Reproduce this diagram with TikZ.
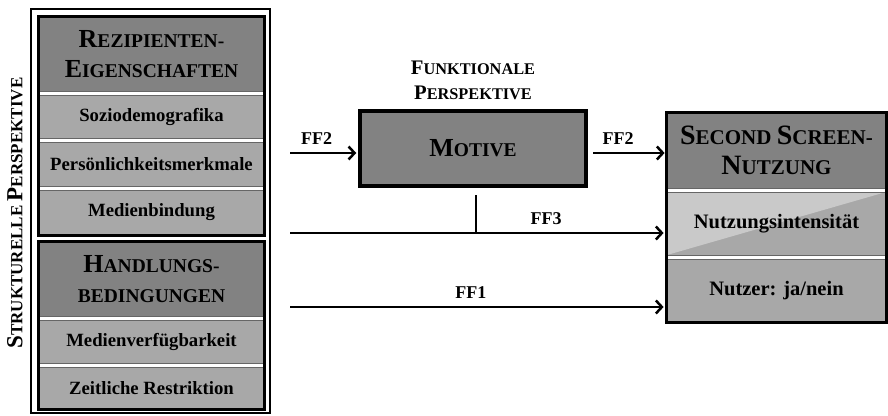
\documentclass[tikz,border=0pt]{standalone}
\usepackage{fontspec}
\setmainfont{Liberation Serif}
\usetikzlibrary{arrows.meta}

\definecolor{dunkelgrau}{gray}{0.51}
\definecolor{mittelgrau}{gray}{0.66}
\definecolor{hellgrau}{gray}{0.79}

\newcommand{\kap}[3][26]{{\fontsize{#1}{30}\selectfont #2}#3}

\tikzset{
  kopf/.style={draw=black!60,fill=dunkelgrau,line width=0.8pt,minimum width=225pt,minimum height=74pt,inner sep=0pt,align=center,font=\bfseries\fontsize{19.5}{30}\selectfont},
  zeile/.style={draw=black!60,fill=mittelgrau,line width=0.8pt,minimum width=225pt,inner sep=0pt,font=\bfseries\fontsize{18.7}{20}\selectfont},
  block/.style={draw=black,line width=3pt},
  linie/.style={line width=2.5pt},
  fflabel/.style={font=\bfseries\fontsize{18}{18}\selectfont},
  >={Straight Barb[length=6pt,width=13pt]}
}

\begin{document}
\begin{tikzpicture}[x=1pt,y=-1pt]
\useasboundingbox (0,0) rectangle (888,415);

\node[rotate=90,font=\bfseries\fontsize{17}{30}\selectfont] (struk) at (15,213) {\kap[23]{S}{TRUKTURELLE} \kap[23]{P}{ERSPEKTIVE}};
\draw[line width=2.5pt] (31,9) rectangle (270,413);

\node[kopf] (rezip) at (151.5,54) {\kap{R}{EZIPIENTEN-}\\\kap{E}{IGENSCHAFTEN}};
\node[zeile,minimum height=43pt] (sozio) at (151.5,116.5) {Soziodemografika};
\node[zeile,minimum height=44pt] (pers) at (151.5,164) {Persönlichkeitsmerkmale};
\node[zeile,minimum height=45pt] (medb) at (151.5,212.5) {Medienbindung};
\draw[block] (rezip.north west) rectangle (medb.south east);

\node[kopf] (handl) at (151.5,279) {\kap{H}{ANDLUNGS-}\\BEDINGUNGEN};
\node[zeile,minimum height=43pt] (medv) at (151.5,341.5) {Medienverfügbarkeit};
\node[zeile,minimum height=42pt] (zeit) at (151.5,388) {Zeitliche Restriktion};
\draw[block] (handl.north west) rectangle (zeit.south east);

\node[align=center,font=\bfseries\fontsize{16.3}{25}\selectfont] (funkt) at (473,80) {\kap[20.7]{F}{UNKTIONALE}\\\kap[20.7]{P}{ERSPEKTIVE}};
\node[draw=black,line width=3.5pt,fill=dunkelgrau,minimum width=226pt,minimum height=75pt,font=\bfseries\fontsize{19.5}{30}\selectfont] (motive) at (473,148.5) {\kap{M}{OTIVE}};

\node[kopf,minimum width=219pt,minimum height=75pt,font=\bfseries\fontsize{21}{30}\selectfont] (ssn) at (776.5,150.5) {\kap[28]{S}{ECOND} \kap[28]{S}{CREEN-}\\\kap[28]{N}{UTZUNG}};
\node[zeile,minimum width=219pt,minimum height=63pt,font=\bfseries\fontsize{20.5}{22}\selectfont,path picture={\fill[hellgrau] (path picture bounding box.north west) -- (path picture bounding box.north east) -- (path picture bounding box.south west) -- cycle;}] (nint) at (776.5,223.5) {Nutzungsintensität};
\node[zeile,minimum width=219pt,minimum height=63pt,font=\bfseries\fontsize{20.5}{22}\selectfont] (nutzer) at (776.5,290.5) {Nutzer: ja/nein};
\draw[block] (ssn.north west) rectangle (nutzer.south east);

\coordinate (a2) at (290,153);
\coordinate (b2) at (593,153);
\coordinate (a3) at (290,233);
\coordinate (s3) at (476,195);
\coordinate (a1) at (290,307);

\draw[linie,->,shorten >=2pt] (a2) -- (a2 -| motive.west) node[pos=0.39,above=3.5pt,fflabel] (ff2a) {FF2};
\draw[linie,->,shorten >=2pt] (b2) -- (b2 -| ssn.west) node[pos=0.34,above=3.5pt,fflabel] (ff2b) {FF2};
\draw[linie,->,shorten >=3pt] (a3) -- (a3 -| nint.west) node[pos=0.68,above=3.5pt,fflabel] (ff3) {FF3};
\draw[linie] (s3) -- (s3 |- a3);
\draw[linie,->,shorten >=3pt] (a1) -- (a1 -| nutzer.west) node[pos=0.48,above=3.5pt,fflabel] (ff1) {FF1};

\end{tikzpicture}
\end{document}
